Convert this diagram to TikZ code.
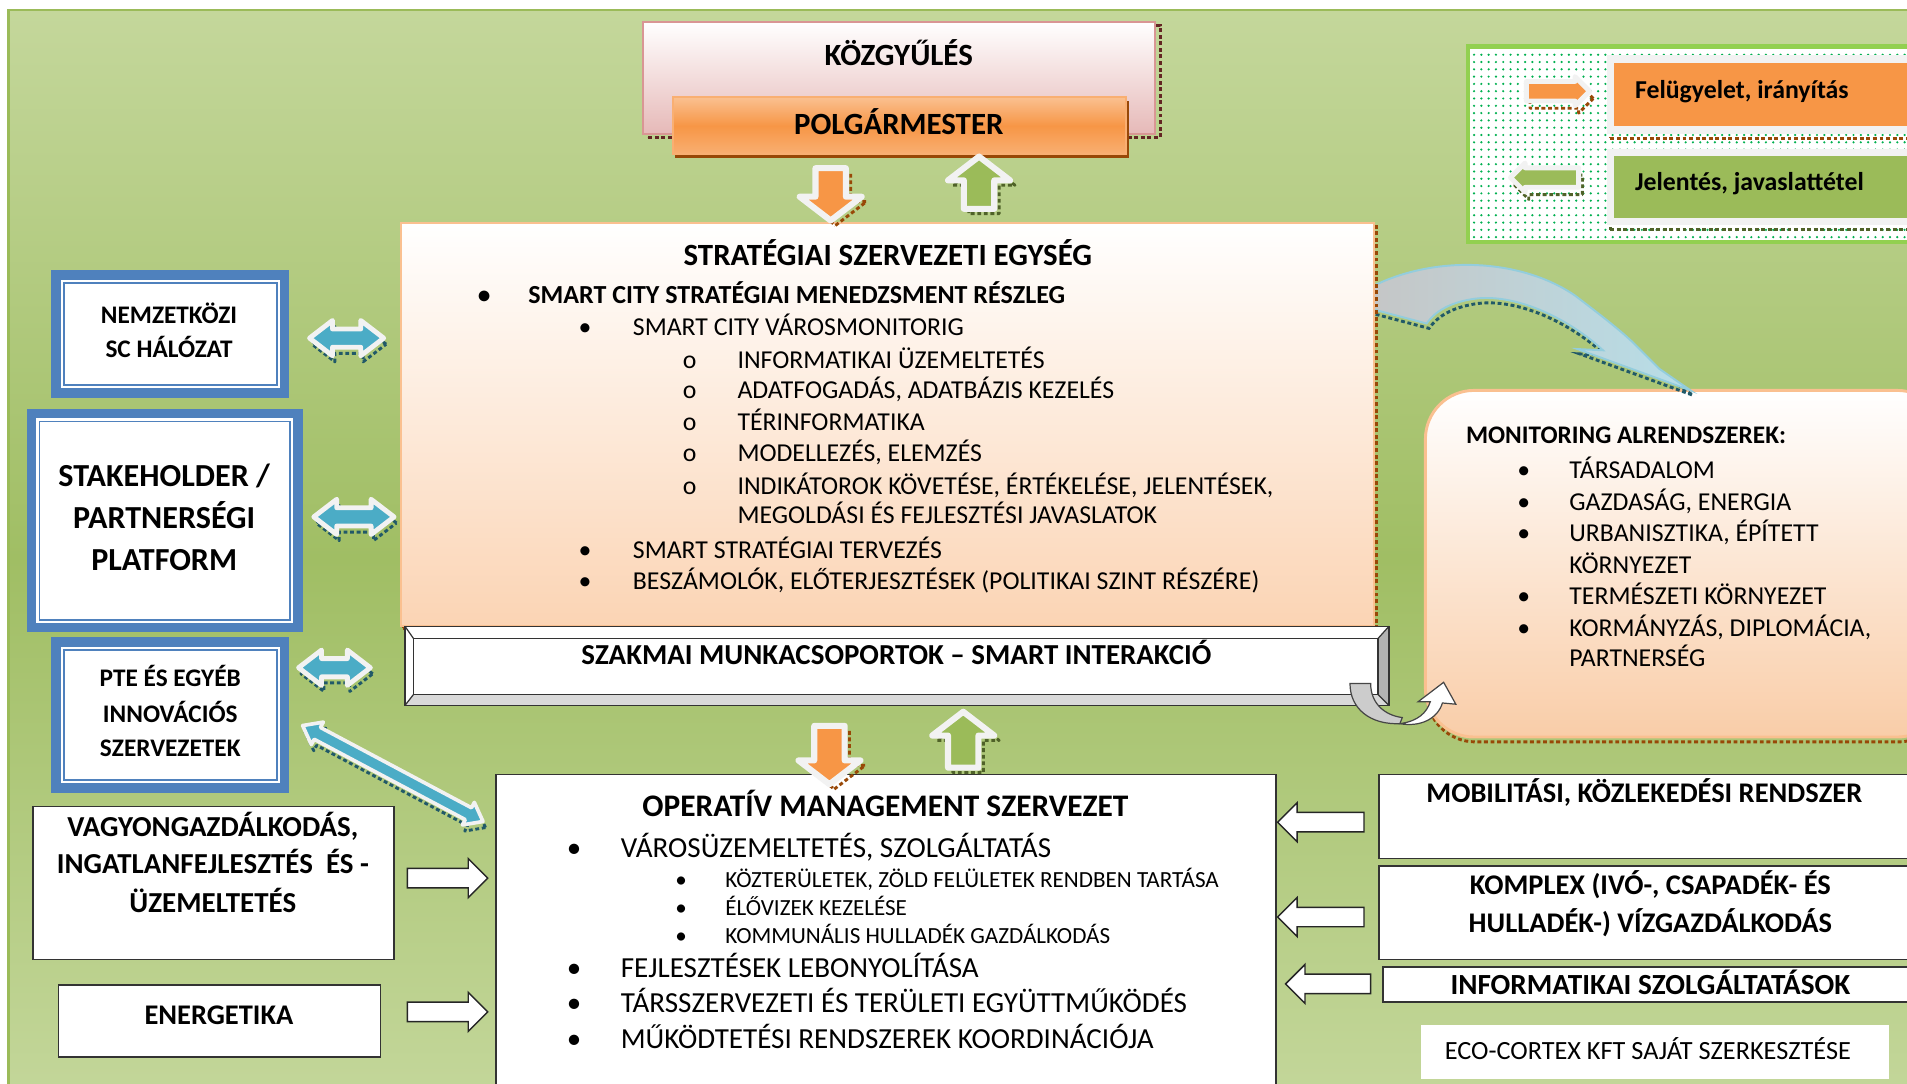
\documentclass[tikz,border=0pt]{standalone}
\usepackage{fontspec}
\setmainfont{Carlito}
\usetikzlibrary{shapes.arrows, patterns, calc}

\definecolor{bgtop}{RGB}{196,215,155}
\definecolor{bgmid}{RGB}{160,190,100}
\definecolor{bgline}{RGB}{155,187,89}
\definecolor{pinkfill}{RGB}{230,185,184}
\definecolor{pinkline}{RGB}{217,150,148}
\definecolor{darkred}{RGB}{99,37,35}
\definecolor{orangemain}{RGB}{247,150,70}
\definecolor{orangelight}{RGB}{250,192,144}
\definecolor{orangedark}{RGB}{152,72,7}
\definecolor{peach}{RGB}{251,212,180}
\definecolor{peachdeep}{RGB}{249,205,168}
\definecolor{scblue}{RGB}{79,129,189}
\definecolor{sccyan}{RGB}{75,172,198}
\definecolor{tealdark}{RGB}{33,89,104}
\definecolor{greenmain}{RGB}{155,187,89}
\definecolor{greendark}{RGB}{79,98,40}
\definecolor{greenlegend}{RGB}{146,208,80}
\definecolor{dotgreen}{RGB}{0,176,80}
\definecolor{outline}{RGB}{242,242,242}
\definecolor{lightblue}{RGB}{183,222,232}
\definecolor{blueline}{RGB}{147,205,221}

\tikzset{
  dashshadow/.style n args={3}{preaction={draw=#1, fill=none, line width=1.2pt,
      dash pattern=on 1.6pt off 1.1pt, transform canvas={xshift=#2, yshift=#3}}},
  kozbox/.style={draw=pinkline, line width=0.8pt, top color=white, bottom color=pinkfill,
      inner sep=0pt, outer sep=0pt, dashshadow={darkred}{2pt}{-1.5pt}},
  polbox/.style={draw=orangelight!60!orangemain, line width=0.8pt, top color=orangelight,
      bottom color=orangelight!60!orangemain, middle color=orangemain, inner sep=0pt, outer sep=0pt,
      preaction={fill=orangedark, transform canvas={xshift=1pt, yshift=-1.4pt}}},
  ssebox/.style={draw=orangelight, line width=0.8pt, top color=white, bottom color=peach,
      inner sep=0pt, outer sep=0pt, dashshadow={orangedark}{0.8pt}{-0.8pt}},
  monbox/.style={draw=orangelight, line width=1.2pt, rounded corners=20pt, top color=white,
      bottom color=peachdeep, inner sep=0pt, outer sep=0pt, dashshadow={orangedark}{0.5pt}{-2pt}},
  legendbox/.style={draw=greenlegend, line width=2pt, preaction={fill=white}, pattern=dots,
      pattern color=dotgreen, inner sep=0pt, outer sep=0pt},
  legrow/.style={draw=outline, line width=3pt, inner sep=0pt, outer sep=0pt},
  bluebox/.style={draw=scblue, line width=4pt, fill=white, inner sep=0pt, outer sep=0pt},
  plainbox/.style={draw=black!80, line width=0.6pt, fill=white, inner sep=0pt, outer sep=0pt},
  blkarrow/.style={single arrow, draw=outline, line width=2.5pt, line join=round, inner xsep=0pt,
      inner ysep=5pt, single arrow head extend=6.5pt, single arrow tip angle=105},
  dblarrow/.style={double arrow, fill=sccyan, draw=outline, line width=2pt, line join=round,
      inner xsep=0pt, inner ysep=2.75pt, double arrow head extend=3.5pt, double arrow tip angle=75,
      dashshadow={tealdark}{1pt}{-2.5pt}},
  flatarrow/.style={single arrow, fill=white, draw=black!85, line width=0.6pt, inner xsep=0pt,
      inner ysep=3.7pt, single arrow head extend=4pt, single arrow tip angle=90},
  legarrow/.style={single arrow, draw=outline, line width=2pt, line join=round, inner xsep=0pt,
      inner ysep=3pt, single arrow head extend=2pt, single arrow tip angle=90},
  titlefont/.style={inner sep=0pt, text height=8.2pt, text depth=0pt,
      font=\bfseries\fontsize{12.7}{15}\selectfont},
  boxfont/.style={inner sep=0pt, text height=7.5pt, text depth=0pt,
      font=\bfseries\fontsize{11.7}{14}\selectfont},
  smallbold/.style={inner sep=0pt, text height=6.7pt, text depth=0pt,
      font=\bfseries\fontsize{10.4}{12}\selectfont},
  itemfont/.style={inner sep=0pt, text height=6.8pt, text depth=0pt,
      font=\fontsize{10.6}{12}\selectfont},
  opefont/.style={inner sep=0pt, text height=7.7pt, text depth=0pt,
      font=\fontsize{11.95}{14}\selectfont},
  subfont/.style={inner sep=0pt, text height=6.1pt, text depth=0pt,
      font=\fontsize{9.5}{11}\selectfont},
  legfont/.style={inner sep=0pt, font=\bfseries\fontsize{10.6}{12}\selectfont}
}

\begin{document}
\begin{tikzpicture}[x=0.5pt, y=-0.5pt]
\useasboundingbox (0,0) rectangle (1568,891);

% Background panel
\shade[top color=bgtop, bottom color=bgtop, middle color=bgmid] (7,8) rectangle (1620,910);
\draw[bgline, line width=1pt] (7,910) -- (7,8) -- (1620,8);

% Legend
\node[legendbox, anchor=north west, minimum width=196.5pt, minimum height=80.5pt] (legend) at (1207,38) {};
\node[legrow, fill=orangemain, dashshadow={orangedark}{0pt}{-3.3pt}, anchor=north west, minimum width=160pt, minimum height=29.25pt] (legor) at (1324,48.5) {};
\node[legrow, fill=greenmain, dashshadow={greendark}{0pt}{-3.5pt}, anchor=north west, minimum width=160pt, minimum height=28.25pt] (leggr) at (1324,125.5) {};
\node[legfont, anchor=base west] (legor-t) at (1344,81) {Felügyelet, irányítás};
\node[legfont, anchor=base west] (leggr-t) at (1344,157) {Jelentés, javaslattétel};
\node[legarrow, fill=orangemain, dashshadow={orangedark}{1.5pt}{-3pt}, minimum height=26pt] (legarr1) at (1277,75) {};
\node[legarrow, fill=greenmain, dashshadow={greendark}{1.5pt}{-3pt}, rotate=180, minimum height=28pt] (legarr2) at (1274,146) {};

% Kozgyules and polgarmester
\node[kozbox, anchor=north west, minimum width=210.5pt, minimum height=46pt] (kozgy) at (529,18) {};
\node[polbox, anchor=north west, minimum width=186.5pt, minimum height=23.5pt] (polg) at (553,80) {};
\node[titlefont] (kozgy-t) at (739,46) {KÖZGYŰLÉS};
\node[titlefont] (polg-t) at (739,102) {POLGÁRMESTER};

% Monitoring subsystems
\node[monbox, anchor=north west, minimum width=214pt, minimum height=142.5pt] (mon) at (1172,321) {};
\node[smallbold, anchor=west] (mon-t) at (1205,358) {MONITORING ALRENDSZEREK:};
\node[itemfont] (m1b) at (1253,387) {•};
\node[itemfont, anchor=west] (m1) at (1290,387) {TÁRSADALOM};
\node[itemfont] (m2b) at (1253,413) {•};
\node[itemfont, anchor=west] (m2) at (1290,413) {GAZDASÁG, ENERGIA};
\node[itemfont] (m3b) at (1253,438.5) {•};
\node[itemfont, anchor=west] (m3) at (1290,438.5) {URBANISZTIKA, ÉPÍTETT};
\node[itemfont, anchor=west] (m3x) at (1290,464.5) {KÖRNYEZET};
\node[itemfont] (m4b) at (1253,490) {•};
\node[itemfont, anchor=west] (m4) at (1290,490) {TERMÉSZETI KÖRNYEZET};
\node[itemfont] (m5b) at (1253,516.5) {•};
\node[itemfont, anchor=west] (m5) at (1290,516.5) {KORMÁNYZÁS, DIPLOMÁCIA,};
\node[itemfont, anchor=west] (m5x) at (1290,541.5) {PARTNERSÉG};

% Curved arrow towards monitoring
\draw[draw=blueline, line width=0.8pt, left color=gray!45, right color=lightblue, dashshadow={tealdark}{1pt}{-2pt}]
  (1120,240) .. controls (1175,208) and (1250,212) .. (1295,243)
  .. controls (1320,262) and (1338,276) .. (1349,288)
  -- (1364,303) -- (1390,321) -- (1297,287) -- (1318,288)
  .. controls (1290,262) and (1245,240) .. (1210,246)
  .. controls (1192,249) and (1180,256) .. (1173,266)
  -- (1120,252) -- cycle;

% Strategic unit
\node[ssebox, anchor=north west, minimum width=400pt, minimum height=166pt] (sse) at (330,183) {};
\node[titlefont] (sse-t) at (730,210) {STRATÉGIAI SZERVEZETI EGYSÉG};
\node[smallbold] (s1b) at (398,243) {•};
\node[smallbold, anchor=west, font=\bfseries\fontsize{10.7}{12}\selectfont] (s1) at (434,243) {SMART CITY STRATÉGIAI MENEDZSMENT RÉSZLEG};
\node[itemfont] (s2b) at (481,269) {•};
\node[itemfont, anchor=west] (s2) at (520,269) {SMART CITY VÁROSMONITORIG};
\node[itemfont] (s3b) at (567,296) {o};
\node[itemfont, anchor=west] (s3) at (606,296) {INFORMATIKAI ÜZEMELTETÉS};
\node[itemfont] (s4b) at (567,321) {o};
\node[itemfont, anchor=west] (s4) at (606,321) {ADATFOGADÁS, ADATBÁZIS KEZELÉS};
\node[itemfont] (s5b) at (567,347) {o};
\node[itemfont, anchor=west] (s5) at (606,347) {TÉRINFORMATIKA};
\node[itemfont] (s6b) at (567,373) {o};
\node[itemfont, anchor=west] (s6) at (606,373) {MODELLEZÉS, ELEMZÉS};
\node[itemfont] (s7b) at (567,400) {o};
\node[itemfont, anchor=west] (s7) at (606,400) {INDIKÁTOROK KÖVETÉSE, ÉRTÉKELÉSE, JELENTÉSEK,};
\node[itemfont, anchor=west] (s7x) at (606,424) {MEGOLDÁSI ÉS FEJLESZTÉSI JAVASLATOK};
\node[itemfont] (s8b) at (481,452) {•};
\node[itemfont, anchor=west] (s8) at (520,452) {SMART STRATÉGIAI TERVEZÉS};
\node[itemfont] (s9b) at (481,478) {•};
\node[itemfont, anchor=west] (s9) at (520,478) {BESZÁMOLÓK, ELŐTERJESZTÉSEK (POLITIKAI SZINT RÉSZÉRE)};

% Working groups bar
\node[plainbox, anchor=north west, minimum width=404.5pt, minimum height=32.5pt] (szak) at (333,515) {};
\fill[gray!30] (szak.south west) -- (szak.south east) -- ($(szak.south east)+(-9,-9)$) -- ($(szak.south west)+(7,-9)$) -- cycle;
\fill[gray!60] (szak.north east) -- (szak.south east) -- ($(szak.south east)+(-9,-9)$) -- ($(szak.north east)+(-9,10)$) -- cycle;
\draw[black!80, line width=0.6pt] ($(szak.north west)+(7,10)$) rectangle ($(szak.south east)+(-9,-9)$);
\draw[black!80, line width=0.5pt] (szak.north west) -- ++(7,10) (szak.south west) -- ++(7,-9)
  (szak.north east) -- ++(-9,10) (szak.south east) -- ++(-9,-9);
\draw[black!80, line width=0.6pt] (szak.north west) rectangle (szak.south east);
\node[boxfont, font=\bfseries\fontsize{11.9}{14}\selectfont] (szak-t) at (737,539) {SZAKMAI MUNKACSOPORTOK – SMART INTERAKCIÓ};

% Small turning arrows
\filldraw[fill=gray!40, draw=gray!55!black, line width=0.5pt]
  (1110,562) -- (1127,562) .. controls (1127,578) and (1138,588) .. (1153,590)
  -- (1151,595) .. controls (1127,596) and (1110,583) .. (1110,562) -- cycle;
\filldraw[fill=white, draw=gray!55!black, line width=0.5pt]
  (1151,595) .. controls (1166,593) and (1173,586) .. (1176,577) -- (1166,577) -- (1187,561)
  -- (1197,579) -- (1186,578) .. controls (1182,591) and (1168,598) .. (1151,595) -- cycle;

% Left partner boxes
\node[bluebox, minimum width=94pt, minimum height=48.5pt] (nemz) at (140,274.5) {};
\node[bluebox, minimum width=109.5pt, minimum height=88pt] (stak) at (135.5,428) {};
\node[bluebox, minimum width=94pt, minimum height=60pt] (pte) at (140,588) {};
\draw[scblue, line width=0.7pt] ($(nemz.north west)+(6.5,6.5)$) rectangle ($(nemz.south east)+(-6.5,-6.5)$);
\draw[scblue, line width=0.7pt] ($(stak.north west)+(6.5,6.5)$) rectangle ($(stak.south east)+(-6.5,-6.5)$);
\draw[scblue, line width=0.7pt] ($(pte.north west)+(6.5,6.5)$) rectangle ($(pte.south east)+(-6.5,-6.5)$);
\node[smallbold] (nemz-t1) at (139,259) {NEMZETKÖZI};
\node[smallbold] (nemz-t2) at (139,287) {SC HÁLÓZAT};
\node[titlefont, font=\bfseries\fontsize{13.2}{15}\selectfont] (stak-t1) at (135,392) {STAKEHOLDER /};
\node[titlefont, font=\bfseries\fontsize{13.2}{15}\selectfont] (stak-t2) at (135,426) {PARTNERSÉGI};
\node[titlefont, font=\bfseries\fontsize{13.2}{15}\selectfont] (stak-t3) at (135,461) {PLATFORM};
\node[smallbold] (pte-t1) at (140,558) {PTE ÉS EGYÉB};
\node[smallbold] (pte-t2) at (140,587) {INNOVÁCIÓS};
\node[smallbold] (pte-t3) at (140,615) {SZERVEZETEK};

% Lower left boxes
\node[plainbox, anchor=north west, minimum width=148.5pt, minimum height=63pt] (vagy) at (27,663) {};
\node[plainbox, anchor=north west, minimum width=132.5pt, minimum height=29.5pt] (ener) at (48,810) {};
\node[boxfont, font=\bfseries\fontsize{11.9}{14}\selectfont] (vagy-t1) at (175,680) {VAGYONGAZDÁLKODÁS,};
\node[boxfont, font=\bfseries\fontsize{11.9}{14}\selectfont] (vagy-t2) at (175,711) {INGATLANFEJLESZTÉS\ \ ÉS -};
\node[boxfont, font=\bfseries\fontsize{11.9}{14}\selectfont] (vagy-t3) at (175,743) {ÜZEMELTETÉS};
\node[boxfont] (ener-t) at (180,835) {ENERGETIKA};

% Operative management
\node[plainbox, anchor=north west, minimum width=320.5pt, minimum height=134pt] (ope) at (408,637) {};
\node[titlefont, font=\bfseries\fontsize{12.9}{15}\selectfont] (ope-t) at (728,663) {OPERATÍV MANAGEMENT SZERVEZET};
\node[opefont] (o1b) at (472,697) {•};
\node[opefont, anchor=west] (o1) at (510,697) {VÁROSÜZEMELTETÉS, SZOLGÁLTATÁS};
\node[subfont] (o2b) at (560,724) {•};
\node[subfont, anchor=west] (o2) at (596,724) {KÖZTERÜLETEK, ZÖLD FELÜLETEK RENDBEN TARTÁSA};
\node[subfont] (o3b) at (560,747) {•};
\node[subfont, anchor=west] (o3) at (596,747) {ÉLŐVIZEK KEZELÉSE};
\node[subfont] (o4b) at (560,770) {•};
\node[subfont, anchor=west] (o4) at (596,770) {KOMMUNÁLIS HULLADÉK GAZDÁLKODÁS};
\node[opefont] (o5b) at (472,796) {•};
\node[opefont, anchor=west] (o5) at (510,796) {FEJLESZTÉSEK LEBONYOLÍTÁSA};
\node[opefont] (o6b) at (472,825) {•};
\node[opefont, anchor=west] (o6) at (510,825) {TÁRSSZERVEZETI ÉS TERÜLETI EGYÜTTMŰKÖDÉS};
\node[opefont] (o7b) at (472,854) {•};
\node[opefont, anchor=west] (o7) at (510,854) {MŰKÖDTETÉSI RENDSZEREK KOORDINÁCIÓJA};

% Right side systems
\node[plainbox, anchor=north west, minimum width=243pt, minimum height=34.5pt] (mob) at (1134,637) {};
\node[plainbox, anchor=north west, minimum width=243pt, minimum height=38.5pt] (komp) at (1134,712) {};
\node[plainbox, anchor=north west, minimum width=241.5pt, minimum height=14.5pt] (info) at (1137,795) {};
\node[fill=white, inner sep=0pt, anchor=north west, minimum width=192.5pt, minimum height=22.5pt] (eco) at (1168,842) {};
\node[boxfont] (mob-t) at (1352,652) {MOBILITÁSI, KÖZLEKEDÉSI RENDSZER};
\node[boxfont] (komp-t1) at (1357,728) {KOMPLEX (IVÓ-, CSAPADÉK- ÉS};
\node[boxfont] (komp-t2) at (1357,759) {HULLADÉK-) VÍZGAZDÁLKODÁS};
\node[boxfont, font=\bfseries\fontsize{12}{14}\selectfont] (info-t) at (1357,810) {INFORMATIKAI SZOLGÁLTATÁSOK};
\node[itemfont, font=\fontsize{10.8}{12}\selectfont] (eco-t) at (1355,864) {ECO-CORTEX KFT SAJÁT SZERKESZTÉSE};

% Block arrows
\node[blkarrow, fill=orangemain, rotate=-90, minimum height=21.5pt, dashshadow={orangedark}{2pt}{-2pt}] (down1) at (683,155) {};
\node[blkarrow, fill=greenmain, rotate=90, minimum height=21.5pt, dashshadow={greendark}{2pt}{-2pt}] (up1) at (805,155) {};
\node[blkarrow, fill=orangemain, rotate=-90, minimum height=24pt, dashshadow={orangedark}{2pt}{-2pt}] (down2) at (682,616) {};
\node[blkarrow, fill=greenmain, rotate=90, minimum height=23pt, dashshadow={greendark}{2pt}{-2pt}] (up2) at (792,613) {};

\node[dblarrow, minimum height=30.5pt] (nemz-arr) at (285,278) {};
\node[dblarrow, minimum height=33pt] (stak-arr) at (291,425) {};
\node[dblarrow, minimum height=29.5pt] (pte-arr) at (275,549) {};
\node[dblarrow, rotate=-28, minimum height=84pt, line width=1.5pt, inner ysep=2pt, double arrow head extend=2.5pt] (diag-arr) at (323,636) {};

\node[flatarrow, minimum height=33pt] (vagy-arr) at (364,722) {};
\node[flatarrow, minimum height=33pt] (ener-arr) at (364,832) {};
\node[flatarrow, rotate=180, minimum height=35.5pt] (mob-arr) at (1090,676) {};
\node[flatarrow, rotate=180, minimum height=35.5pt] (komp-arr) at (1090,754) {};
\node[flatarrow, rotate=180, minimum height=35pt] (info-arr) at (1096,809) {};

\end{tikzpicture}
\end{document}
